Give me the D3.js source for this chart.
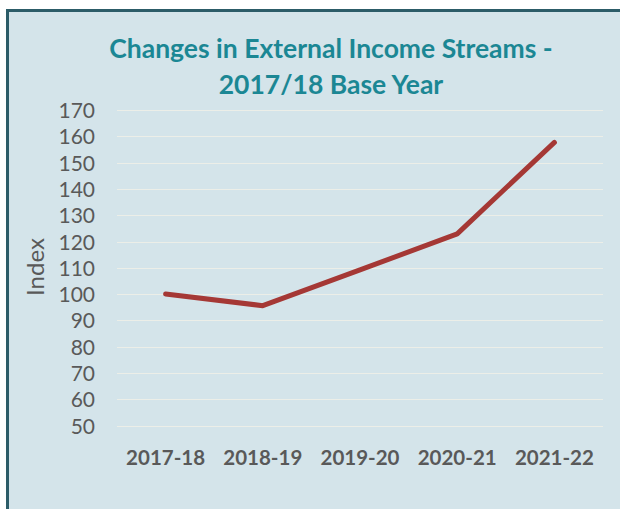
<!DOCTYPE html>
<html>
<head>
<meta charset="utf-8">
<script src="https://cdn.jsdelivr.net/npm/d3@7"></script>
<style>
  html, body { margin: 0; padding: 0; background: #ffffff; }
  svg { display: block; }
</style>
</head>
<body>
<svg id="chart" width="620" height="509"></svg>
<script>
const categories = ["2017-18", "2018-19", "2019-20", "2020-21", "2021-22"];
const indexValues = [100, 95.6, 109.2, 122.9, 157.7];
const yTicks = [50, 60, 70, 80, 90, 100, 110, 120, 130, 140, 150, 160, 170];
const titleLines = ["Changes in External Income Streams -", "2017/18 Base Year"];
const yAxisTitle = "Index";

const svg = d3.select("#chart");

// panel with border
svg.append("rect")
  .attr("x", 7.5).attr("y", 10.5)
  .attr("width", 640).attr("height", 520)
  .attr("fill", "#d4e4ea")
  .attr("stroke", "#2c5c68")
  .attr("stroke-width", 3);

const x = d3.scaleBand().domain(categories).range([117, 603]).padding(0);
const y = d3.scaleLinear().domain([50, 170]).range([425.6, 110]);

// gridlines
svg.append("g").selectAll("line").data(yTicks).join("line")
  .attr("x1", 117).attr("x2", 603)
  .attr("y1", d => Math.round(y(d)) + 0.5).attr("y2", d => Math.round(y(d)) + 0.5)
  .attr("stroke", "#eceee8").attr("stroke-width", 1.2);

// y axis labels
const yAxis = d3.axisLeft(y).tickValues(yTicks).tickSize(0).tickPadding(0);
const gy = svg.append("g").attr("transform", "translate(95,0)").call(yAxis);
gy.select(".domain").remove();
gy.selectAll("text")
  .attr("fill", "#595959")
  .style("font-family", "Lato, 'Open Sans', sans-serif")
  .style("font-size", "21px")
  .attr("dy", "0.36em");

// x axis labels
const xAxis = d3.axisBottom(x).tickSize(0).tickPadding(0);
const gx = svg.append("g").attr("transform", "translate(0,458)").call(xAxis);
gx.select(".domain").remove();
gx.selectAll("text")
  .attr("fill", "#595959")
  .style("font-family", "Lato, 'Open Sans', sans-serif")
  .style("font-weight", "bold")
  .style("font-size", "20.5px")
  .attr("y", 0)
  .attr("dy", "0.36em");

// y axis title
svg.append("text")
  .attr("transform", "translate(35,267) rotate(-90)")
  .attr("text-anchor", "middle")
  .attr("dy", "0.36em")
  .attr("fill", "#595959")
  .style("font-family", "Lato, 'Open Sans', sans-serif")
  .style("font-size", "24px")
  .text(yAxisTitle);

// line
const line = d3.line()
  .x((d, i) => x(categories[i]) + x.bandwidth() / 2)
  .y(d => y(d));
svg.append("path")
  .datum(indexValues)
  .attr("d", line)
  .attr("fill", "none")
  .attr("stroke", "#a53835")
  .attr("stroke-width", 5)
  .attr("stroke-linecap", "round")
  .attr("stroke-linejoin", "round");

// title
svg.append("g").selectAll("text").data(titleLines).join("text")
  .attr("x", 331)
  .attr("y", (d, i) => 48 + i * 36)
  .attr("text-anchor", "middle")
  .attr("dy", "0.36em")
  .attr("fill", "#1b8794")
  .style("font-family", "Lato, 'Open Sans', sans-serif")
  .style("font-weight", "bold")
  .style("font-size", "26.5px")
  .text(d => d);
</script>
</body>
</html>
